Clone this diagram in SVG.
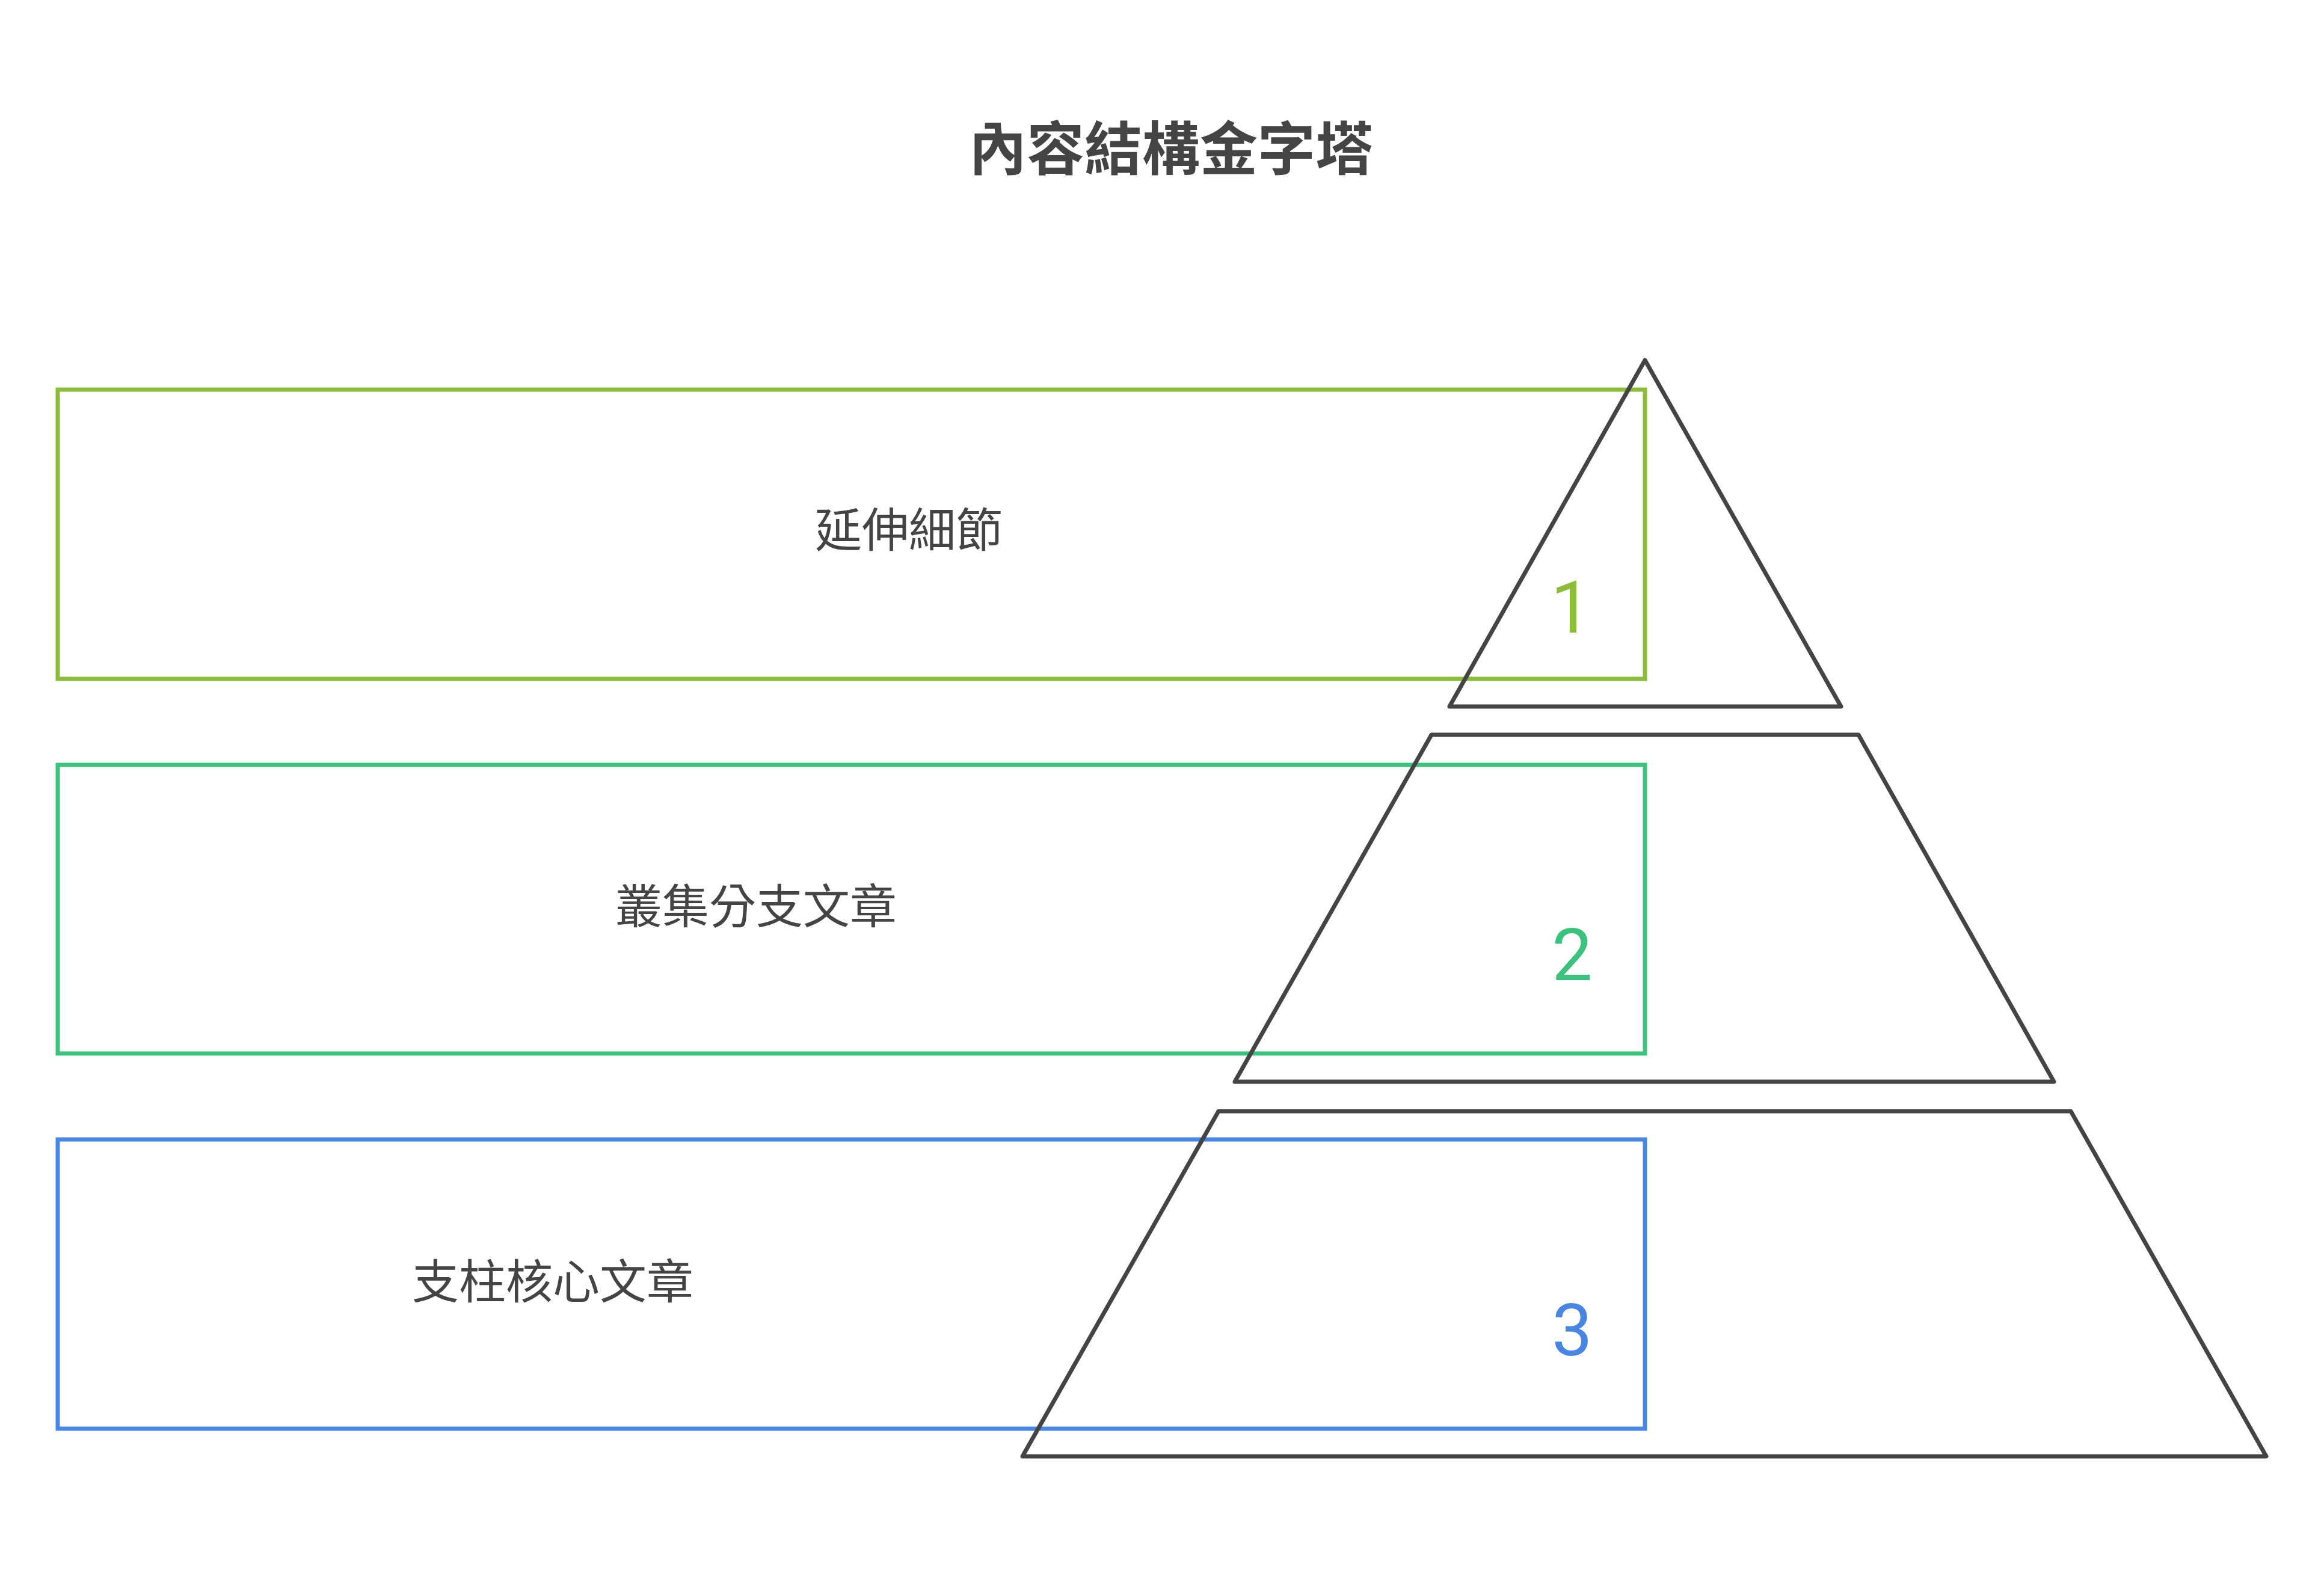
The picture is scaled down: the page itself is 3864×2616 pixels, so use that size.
<svg xmlns="http://www.w3.org/2000/svg" width="3864" height="2616" viewBox="0 0 3864 2616">
<style>
.box{fill:none;stroke-width:7}
.pyr{fill:none;stroke:#444;stroke-width:7;stroke-linejoin:round}
.lbl{font-family:"Roboto","Noto Sans CJK TC",sans-serif;font-size:78px;fill:#444;text-anchor:middle}
.num{font-family:"Roboto","Noto Sans",sans-serif;font-size:120px;text-anchor:middle}
.title{font-family:"Noto Sans CJK TC",sans-serif;font-weight:bold;font-size:96px;fill:#444;text-anchor:middle}
</style>
<rect width="3864" height="2616" fill="#fff"/>
<text class="title" x="1947" y="282">內容結構金字塔</text>
<g id="level1">
<rect class="box" x="96" y="648" width="2639" height="481" stroke="#8dbb3c"/>
<polygon class="pyr" points="2735,599 3061,1175 2410,1175"/>
<text class="lbl" x="1511" y="910">延伸細節</text>
<text class="num" x="2612" y="1052" fill="#8dbb3c">1</text>
</g>
<g id="level2">
<rect class="box" x="96" y="1272" width="2639" height="480" stroke="#3ec07f"/>
<polygon class="pyr" points="2380,1222 3090,1222 3415,1799 2053,1799"/>
<text class="lbl" x="1257" y="1536">叢集分支文章</text>
<text class="num" x="2614" y="1630" fill="#3ec07f">2</text>
</g>
<g id="level3">
<rect class="box" x="96" y="1895" width="2639" height="481" stroke="#4a86e0"/>
<polygon class="pyr" points="2026,1848 3443,1848 3768,2422 1700,2422"/>
<text class="lbl" x="919" y="2160">支柱核心文章</text>
<text class="num" x="2614" y="2254" fill="#4a86e0">3</text>
</g>
<g id="connectors"/>
</svg>
